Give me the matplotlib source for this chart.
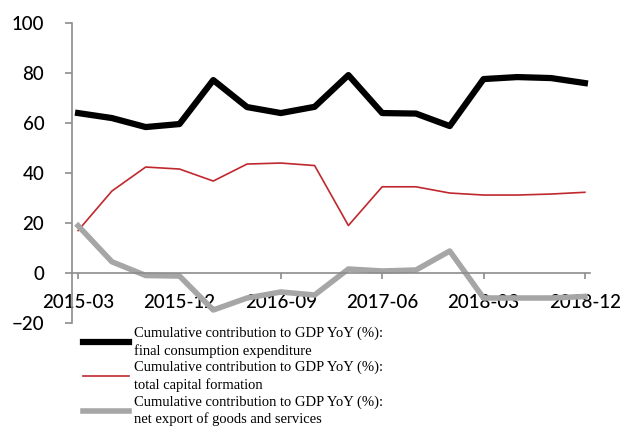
import matplotlib.pyplot as plt
import numpy as np

quarters = ['2015-03', '2015-06', '2015-09', '2015-12',
            '2016-03', '2016-06', '2016-09', '2016-12',
            '2017-03', '2017-06', '2017-09', '2017-12',
            '2018-03', '2018-06', '2018-09', '2018-12']

consumption = [64.0, 62.0, 58.4, 59.6, 77.2, 66.4, 64.0, 66.5,
               79.2, 64.0, 63.8, 58.8, 77.6, 78.4, 78.0, 76.0]
capital = [17.0, 32.8, 42.4, 41.6, 36.8, 43.6, 44.0, 43.0,
           19.0, 34.5, 34.5, 32.0, 31.2, 31.2, 31.6, 32.3]
net_export = [18.9, 4.5, -1.0, -1.2, -14.8, -10.0, -7.6, -8.8,
              1.6, 0.8, 1.2, 8.8, -10.0, -10.0, -10.0, -9.4]

labels = ['Cumulative contribution to GDP YoY (%):\nfinal consumption expenditure',
          'Cumulative contribution to GDP YoY (%):\ntotal capital formation',
          'Cumulative contribution to GDP YoY (%):\nnet export of goods and services']

fig = plt.figure(figsize=(6.21, 4.26), dpi=100)
ax = fig.add_axes([0.116, 0.2418, 0.834, 0.704])

x = np.arange(len(quarters))
ax.plot(x, consumption, color='black', lw=4.5, label=labels[0])
ax.plot(x, capital, color='#C0282D', lw=1.2, label=labels[1])
ax.plot(x, net_export, color='#A6A6A6', lw=4.0, label=labels[2])

ax.set_xlim(-0.18, 15.15)
ax.set_ylim(-20, 100)
ax.set_yticks(range(-20, 101, 20))
ax.set_xticks(x[::3])
ax.set_xticklabels(quarters[::3])

axis_grey = '#8C8C8C'
for side in ['top', 'right']:
    ax.spines[side].set_visible(False)
ax.spines['bottom'].set_position(('data', 0))
ax.spines['left'].set_color(axis_grey)
ax.spines['bottom'].set_color(axis_grey)
ax.spines['left'].set_linewidth(1.2)
ax.spines['bottom'].set_linewidth(1.2)

ax.tick_params(axis='y', direction='out', length=5, width=1.2, color=axis_grey,
               pad=15, labelsize=13.5)
ax.tick_params(axis='x', direction='out', length=4, width=1.2, color=axis_grey,
               pad=11, labelsize=13.5)
for t in ax.get_xticklabels() + ax.get_yticklabels():
    t.set_fontfamily('Lato')
    t.set_fontweight('medium')

leg = ax.legend(loc='upper left', bbox_to_anchor=(0.125, 0.247),
                bbox_transform=fig.transFigure, frameon=False,
                prop={'family': 'Liberation Serif', 'size': 10.5},
                handlelength=3.1, handletextpad=0.35, labelspacing=0.22,
                borderaxespad=0)
for t in leg.get_texts():
    t.set_linespacing(1.35)

fig.savefig('out.png', dpi=100)
